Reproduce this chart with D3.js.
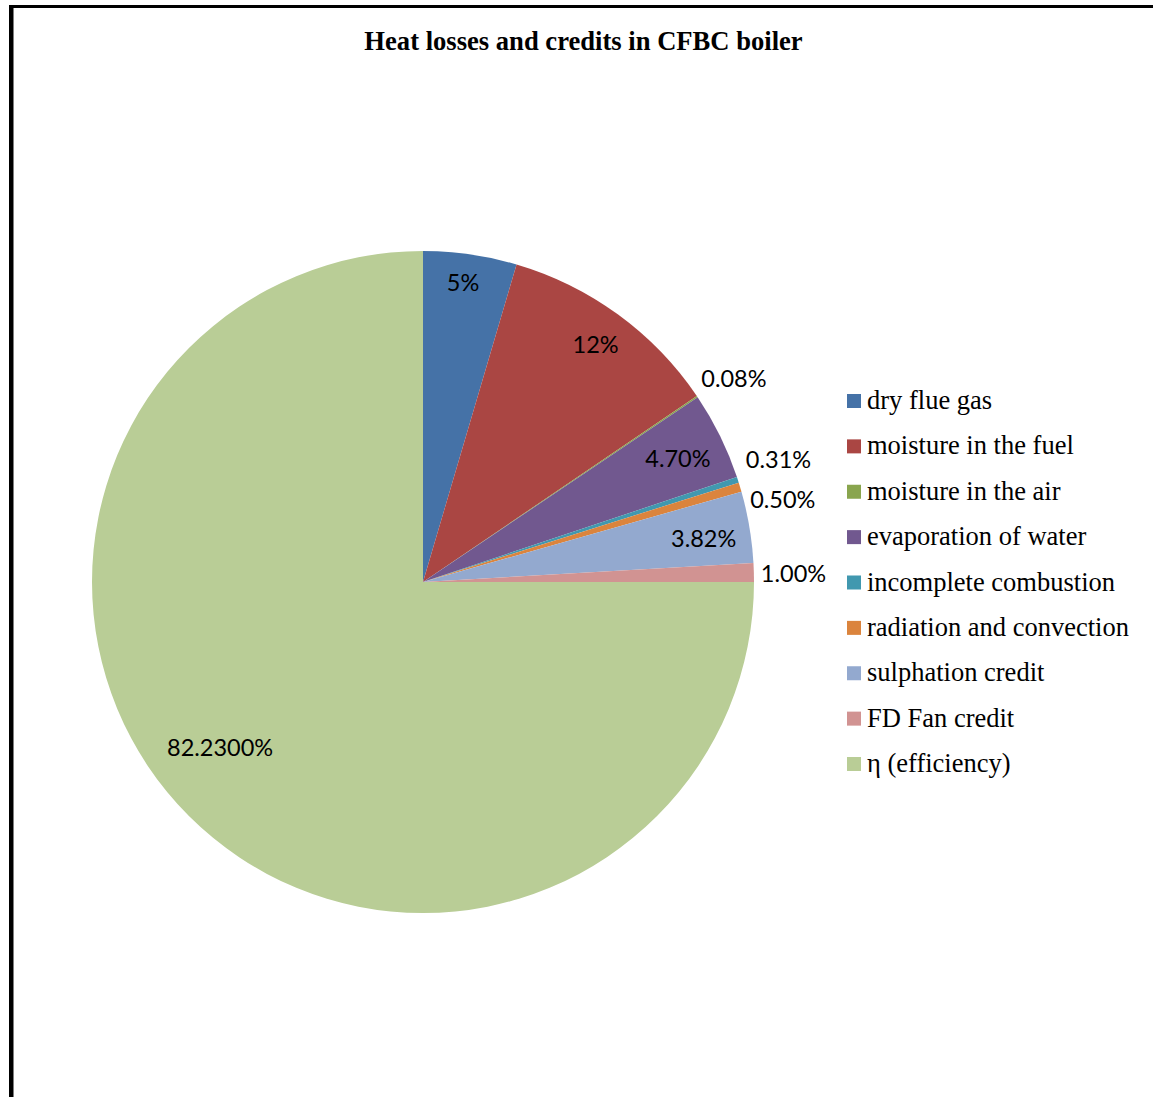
<!DOCTYPE html>
<html><head><meta charset="utf-8">
<script src="https://cdn.jsdelivr.net/npm/d3@7"></script>
<style>html,body{margin:0;padding:0;background:#fff;}</style>
</head><body>
<svg id="chart" width="1153" height="1097"></svg>
<script>
const categories = ["dry flue gas","moisture in the fuel","moisture in the air","evaporation of water","incomplete combustion","radiation and convection","sulphation credit","FD Fan credit","η (efficiency)"];
const values = [5, 12, 0.08, 4.70, 0.31, 0.50, 3.82, 1.00, 82.23];
const valueLabels = ["5%","12%","0.08%","4.70%","0.31%","0.50%","3.82%","1.00%","82.2300%"];
const colors = ["#4572A7","#AA4643","#89A54E","#71588F","#4198AF","#DB843D","#93A9CF","#D19392","#B9CD96"];
const title = "Heat losses and credits in CFBC boiler";

// label layout (not data): inside labels use radius fraction + nudge; outside labels use nudge from the arc edge
const labelLayout = [
  {inside:true, f:0.91, dx:-3, dy:-2},
  {inside:true, f:0.885, dx:0, dy:-1},
  {inside:false, dx:4, dy:-19},
  {inside:true, f:0.855, dx:1, dy:1},
  {inside:false, dx:8, dy:-21},
  {inside:false, dx:10, dy:12},
  {inside:true, f:0.86, dx:0, dy:3},
  {inside:false, dx:7, dy:0},
  {inside:true, f:0.79, dx:-18, dy:-20}
];

const svg = d3.select("#chart");
const W = 1153, H = 1097;
svg.append("rect").attr("width",W).attr("height",H).attr("fill","#fff");
// frame
svg.append("rect").attr("x",9).attr("y",5).attr("width",W-9).attr("height",3).attr("fill","#000");
svg.append("rect").attr("x",9).attr("y",5).attr("width",4.5).attr("height",H-5).attr("fill","#000");

svg.append("text").attr("x",583.5).attr("y",50).attr("text-anchor","middle")
  .attr("font-family","'Liberation Serif','Times New Roman',serif").attr("font-weight","bold")
  .attr("font-size",26.6).attr("fill","#000").text(title);

const cx = 423, cy = 582, R = 331;
const data = categories.map((c,i)=>({name:c, value:values[i], label:valueLabels[i], color:colors[i], lay:labelLayout[i]}));
const pie = d3.pie().value(d=>d.value).sort(null).startAngle(0).endAngle(2*Math.PI);
const arcs = pie(data);
const arc = d3.arc().innerRadius(0).outerRadius(R);
const g = svg.append("g").attr("transform",`translate(${cx},${cy})`);
g.selectAll("path").data(arcs).join("path").attr("d",arc).attr("fill",d=>d.data.color);

const fontLbl = "Lato,'Open Sans',sans-serif";
arcs.forEach(a=>{
  const mid = (a.startAngle+a.endAngle)/2;
  const L = a.data.lay;
  if (L.inside){
    const r = R*L.f;
    g.append("text").attr("x",r*Math.sin(mid)+L.dx).attr("y",-r*Math.cos(mid)+L.dy)
      .attr("text-anchor","middle").attr("dominant-baseline","central")
      .attr("font-family",fontLbl).attr("font-size",23.5).attr("fill","#000").text(a.data.label);
  } else {
    const px = R*Math.sin(mid), py = -R*Math.cos(mid);
    g.append("text").attr("x",px+L.dx).attr("y",py+L.dy)
      .attr("text-anchor","start").attr("dominant-baseline","central")
      .attr("font-family",fontLbl).attr("font-size",23.5).attr("fill","#000").text(a.data.label);
  }
});

// legend
const legY = d3.scalePoint().domain(categories).range([401,764]);
const leg = svg.append("g");
categories.forEach((c,i)=>{
  const y = legY(c);
  leg.append("rect").attr("x",847).attr("y",y-7).attr("width",14).attr("height",14).attr("fill",colors[i]);
  leg.append("text").attr("x",867).attr("y",y+8)
    .attr("font-family","'Liberation Serif','Times New Roman',serif").attr("font-size",26.5)
    .attr("fill","#000").text(c);
});
</script>
</body></html>
